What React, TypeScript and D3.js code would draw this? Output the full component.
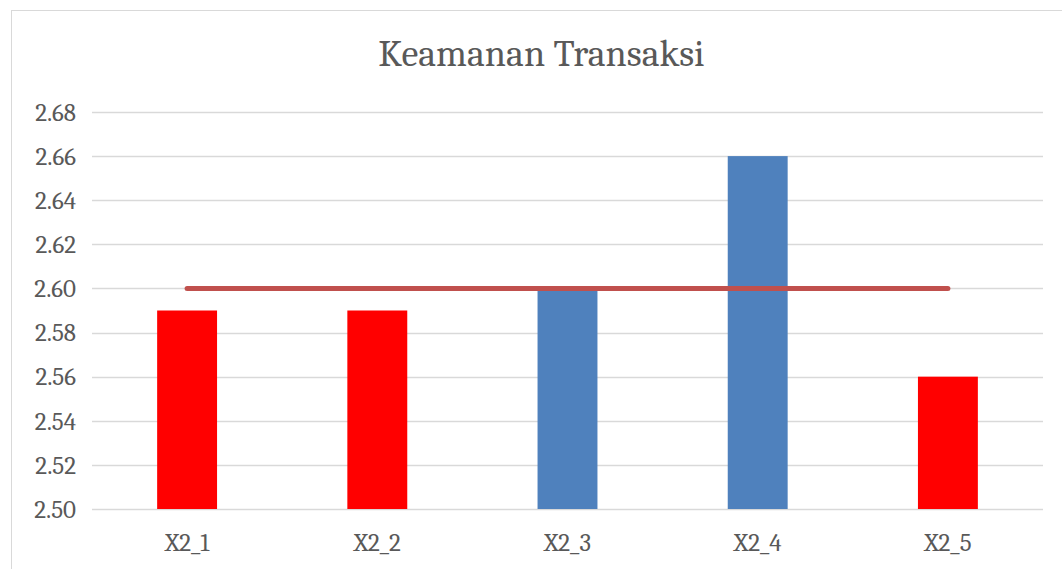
import React from "react";
import * as d3 from "d3";

const categories = ["X2_1", "X2_2", "X2_3", "X2_4", "X2_5"];
const values = [2.59, 2.59, 2.6, 2.66, 2.56];
const barColors = ["#ff0000", "#ff0000", "#4f81bd", "#4f81bd", "#ff0000"];
const meanValue = 2.6;
const yTicks = [2.5, 2.52, 2.54, 2.56, 2.58, 2.6, 2.62, 2.64, 2.66, 2.68];

const App = () => {
	const width = 1062;
	const height = 569;
	const left = 92;
	const right = 1043;
	const top = 112;
	const bottom = 509;
	const font = "Cambria, 'DejaVu Serif', serif";

	const xScale = d3
		.scaleBand()
		.domain(categories)
		.range([left, right])
		.paddingInner(0.685)
		.paddingOuter(0.3425);
	const yScale = d3.scaleLinear().domain([2.5, 2.68]).range([bottom, top]);
	const center = (c) => xScale(c) + xScale.bandwidth() / 2;
	const line = d3.line()([
		[center(categories[0]), yScale(meanValue)],
		[center(categories[categories.length - 1]), yScale(meanValue)],
	]);

	return (
		<svg
			width={width}
			height={height}
			style={{ position: "absolute", left: 0, top: 0, background: "#fff" }}
		>
			<rect
				x={11.5}
				y={10.5}
				width={width}
				height={height}
				fill="none"
				stroke="#d9d9d9"
			/>
			<text
				x={541.5}
				y={66}
				textAnchor="middle"
				fontFamily={font}
				fontSize={38}
				fill="#595959"
			>
				Keamanan Transaksi
			</text>
			{yTicks.map((t) => (
				<g key={t}>
					<line
						x1={left}
						x2={right}
						y1={Math.round(yScale(t)) + 0.5}
						y2={Math.round(yScale(t)) + 0.5}
						stroke="#d9d9d9"
						strokeWidth={1.5}
					/>
					<text
						x={76}
						y={yScale(t)}
						dy="0.35em"
						textAnchor="end"
						fontFamily={font}
						fontSize={25}
						fill="#595959"
					>
						{t.toFixed(2)}
					</text>
				</g>
			))}
			{categories.map((c, i) => (
				<g key={c}>
					<rect
						x={xScale(c)}
						y={yScale(values[i])}
						width={xScale.bandwidth()}
						height={yScale(2.5) - yScale(values[i])}
						fill={barColors[i]}
					/>
					<text
						x={center(c)}
						y={542}
						dy="0.35em"
						textAnchor="middle"
						fontFamily={font}
						fontSize={25}
						fill="#595959"
					>
						{c}
					</text>
				</g>
			))}
			<path
				d={line}
				stroke="#c0504d"
				strokeWidth={5}
				strokeLinecap="round"
				fill="none"
			/>
		</svg>
	);
};

export default App;
